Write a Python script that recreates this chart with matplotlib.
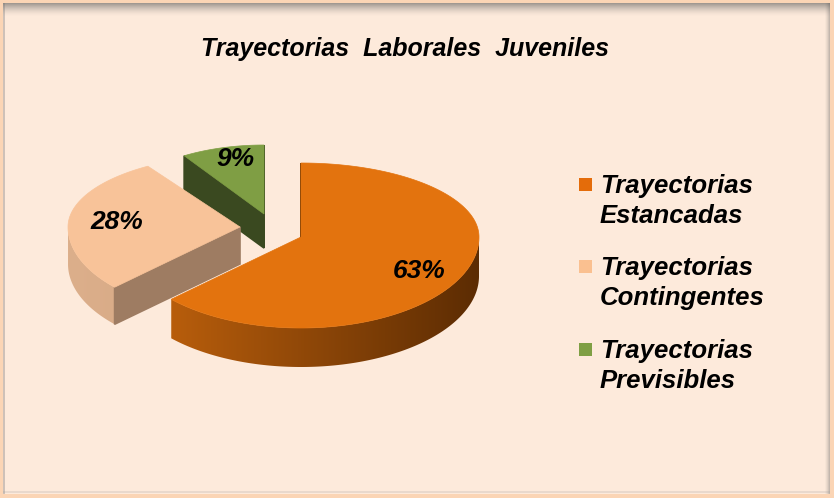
import numpy as np
import matplotlib
matplotlib.use('Agg')
import matplotlib.pyplot as plt
from matplotlib.patches import Polygon, Rectangle
from matplotlib.colors import to_rgb

# ---------------- data ----------------
title = "Trayectorias  Laborales  Juveniles"
categories = ["Trayectorias\nEstancadas", "Trayectorias\nContingentes", "Trayectorias\nPrevisibles"]
values = [63, 28, 9]
pct_labels = ["63%", "28%", "9%"]

# ---------------- style ----------------
top_colors = ["#E3730E", "#F8C399", "#7F9E44"]
legend_colors = ["#E46C0A", "#FAC090", "#7F9F44"]
side_left = ["#C6650D", "#DCAF8B", "#55692C"]
side_right = ["#5C2C03", "#C99977", "#3A4820"]
cut_colors = ["#6A3606", "#9E7C62", "#3A4920"]

# per-slice 3D geometry (pixel space) : centre (after explosion), radii, depth
centres = [(301, 237), (240, 227), (264, 214)]
rx = [178, 172, 149]
ry_back = [74, 72, 69]
ry_front = [91, 88, 85]
depth = [39, 37, 34]
label_pos = [(419, 278), (117, 229), (235, 166)]

FONT = "Liberation Sans"
W, H = 834, 498

fig = plt.figure(figsize=(W / 100, H / 100), dpi=100)
fig.patch.set_facecolor("#FBD5B5")
ax = fig.add_axes([0, 0, 1, 1])
ax.set_xlim(0, W)
ax.set_ylim(H, 0)
ax.axis("off")

# ---------------- frame ----------------
ax.add_patch(Rectangle((3, 3), 827, 491, facecolor="#FDEADB", edgecolor="none", zorder=0))
for k in range(13):
    a = 0.55 * (1 - k / 13) ** 1.6
    ax.add_patch(Rectangle((3, 3 + k), 827, 1, facecolor="#555555", alpha=a, edgecolor="none", zorder=1))
for k in range(5):
    a = 0.35 * ((k + 1) / 5) ** 1.5
    ax.add_patch(Rectangle((825 + k, 3), 1, 491, facecolor="#555555", alpha=a, edgecolor="none", zorder=1))
ax.add_patch(Rectangle((3, 3), 2, 491, facecolor="#777777", alpha=0.35, edgecolor="none", zorder=1))
ax.add_patch(Rectangle((3, 491), 827, 2, facecolor="#999999", alpha=0.2, edgecolor="none", zorder=1))


def rim(i, t, dz=0.0):
    cx, cy = centres[i]
    s = np.sin(t)
    ry = np.where(s > 0, ry_back[i], ry_front[i])
    return cx + rx[i] * np.cos(t), cy - ry * s + dz


total = float(sum(values))
start = np.pi / 2
angles = []
acc = 0.0
for v in values:
    a0 = start - 2 * np.pi * acc / total
    a1 = start - 2 * np.pi * (acc + v) / total
    angles.append((a1, a0))
    acc += v

order = [2, 1, 0]
z = 5
for i in order:
    a1, a0 = angles[i]
    cx, cy = centres[i]
    d = depth[i]
    # outer side: visible front part, filled with a horizontal gradient
    ts = np.linspace(a1, a0, 600)
    vis = ts[np.sin(ts) < 0]
    if len(vis) > 1:
        xs, ys = rim(i, vis)
        pts = list(zip(xs, ys)) + list(zip(xs[::-1], ys[::-1] + d))
        poly = Polygon(pts, closed=True, facecolor="none", edgecolor="none", zorder=z)
        ax.add_patch(poly)
        n = 256
        f = np.linspace(0, 1, n)
        cl, cr = np.array(to_rgb(side_left[i])), np.array(to_rgb(side_right[i]))
        grad = (cl[None, :] + (cr - cl)[None, :] * f[:, None])[None, :, :]
        im = ax.imshow(grad, extent=(cx - rx[i], cx + rx[i], cy + ry_front[i] + d + 2, cy - 2),
                       aspect="auto", interpolation="bilinear", zorder=z)
        im.set_clip_path(poly)
    z += 1
    # radial cut faces
    for ang, normal in ((a0, a0 + np.pi / 2), (a1, a1 - np.pi / 2)):
        if np.sin(normal) <= 1e-9:
            xr, yr = rim(i, ang)
            ax.add_patch(Polygon([(cx, cy), (xr, yr), (xr, yr + d), (cx, cy + d)],
                                 closed=True, facecolor=cut_colors[i], edgecolor=cut_colors[i],
                                 lw=1.2, zorder=z))
    z += 1
    # top face
    tt = np.linspace(a0, a1, 300)
    xs, ys = rim(i, tt)
    pts = [(cx, cy)] + list(zip(xs, ys))
    ax.add_patch(Polygon(pts, closed=True, facecolor=top_colors[i], edgecolor=top_colors[i],
                         lw=0.5, zorder=z))
    z += 1

ax.set_xlim(0, W)
ax.set_ylim(H, 0)

for i in range(len(values)):
    ax.text(label_pos[i][0], label_pos[i][1], pct_labels[i], ha="center", va="baseline",
            fontsize=19, fontweight="bold", fontstyle="italic", family=FONT, zorder=50)

# title
ax.text(405, 56, title, ha="center", va="baseline", fontsize=18, fontweight="bold",
        fontstyle="italic", family=FONT, zorder=50)

# legend
leg_base = [193, 275, 358]
for i, cat in enumerate(categories):
    b = leg_base[i]
    ax.add_patch(Rectangle((579, b - 15), 13, 13, facecolor=legend_colors[i], edgecolor="none", zorder=50))
    for j, line in enumerate(cat.split("\n")):
        ax.text(600, b + 30 * j, line, ha="left", va="baseline", fontsize=18.5, fontweight="bold",
                fontstyle="italic", family=FONT, zorder=50)

fig.savefig("out.png", dpi=100, facecolor=fig.get_facecolor())
